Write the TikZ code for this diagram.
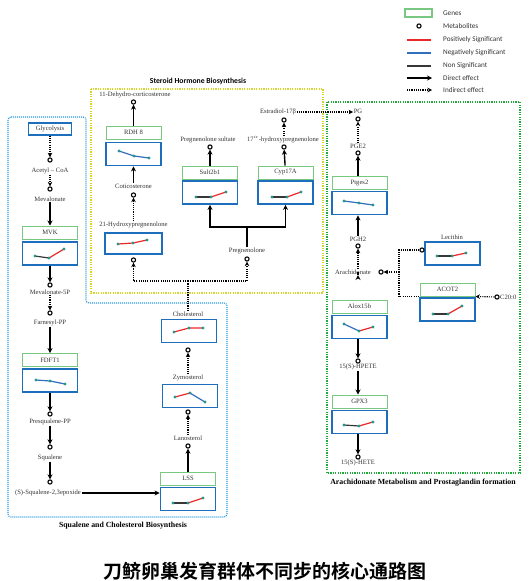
\documentclass[tikz,border=0pt]{standalone}
\usepackage{fontspec}
\setmainfont{Liberation Serif}
\newfontfamily\legendfont{Carlito}
\newfontfamily\cjk[BoldFont={Noto Sans CJK SC Bold}]{Noto Sans CJK SC}
\usetikzlibrary{arrows.meta}

\definecolor{genegreen}{RGB}{120,200,130}
\definecolor{plotblue}{RGB}{30,110,190}
\definecolor{dotc}{RGB}{40,150,140}
\definecolor{posred}{RGB}{235,40,40}
\definecolor{negblue}{RGB}{50,110,190}
\definecolor{nsig}{RGB}{55,55,55}
\definecolor{yellowbox}{RGB}{215,215,40}
\definecolor{greenbox}{RGB}{30,170,60}
\definecolor{bluebox}{RGB}{40,150,220}

\begin{document}
\begin{tikzpicture}[x=1pt,y=-1pt,
    lbl/.style={font=\fontsize{6.6}{7.5}\selectfont,text=black!80,inner sep=0.5pt},
    met/.style={circle,draw,line width=1.1pt,inner sep=0pt,minimum size=4.2pt},
    gene/.style={draw=genegreen,line width=1pt,minimum width=55pt,minimum height=13pt,inner sep=0pt,font=\fontsize{6.6}{7.5}\selectfont,text=black!80},
    plotbox/.style={draw=plotblue,line width=1.8pt,minimum width=55pt,minimum height=23pt,inner sep=0pt},
    direct/.style={line width=1.4pt,-{Stealth[length=5pt,width=5pt]}},
    indirect/.style={line width=1.1pt,dash pattern=on 1.1pt off 1.1pt,-{Stealth[length=4.5pt,width=4.5pt]}},
    link/.style={line width=1.1pt,dash pattern=on 1.1pt off 1.1pt},
    posline/.style={draw=posred,line width=1.2pt},
    negline/.style={draw=negblue,line width=1.2pt},
    nonline/.style={draw=nsig,line width=1.2pt},
    legtext/.style={anchor=west,font=\legendfont\fontsize{7.2}{8}\selectfont,text=black!80,inner sep=0pt},
    frametitle/.style={font=\bfseries\fontsize{7.8}{9}\selectfont}]
\useasboundingbox (0,0) rectangle (531,581);

% pathway frames
\draw[yellowbox,line width=1.2pt,dash pattern=on 1.2pt off 1.2pt] (91,89) rectangle (323,293);
\draw[greenbox,line width=1.3pt,dash pattern=on 1.2pt off 1.2pt] (327,102) rectangle (520,473);
\draw[bluebox,line width=1.1pt,dash pattern=on 1pt off 1pt,rounded corners=3pt]
    (8,117) -- (86,117) -- (86,303) -- (227,303) -- (227,517) -- (8,517) -- cycle;
\node[font=\legendfont\bfseries\fontsize{7.7}{9}\selectfont] (steroid) at (198,81) {Steroid Hormone Biosynthesis};
\node[frametitle] (squal) at (123,526) {Squalene and Cholesterol Biosynthesis};
\node[frametitle] (arachi) at (423,483) {Arachidonate Metabolism and Prostaglandin formation};

% legend
\draw[genegreen,line width=1.2pt] (405,9) rectangle (432,17);
\node[met] (legmet) at (419,26) {};
\draw[posline,line width=1.5pt] (407,40) -- (431,40);
\draw[negline,line width=1.5pt] (407,53) -- (431,53);
\draw[nonline,line width=1.5pt] (407,66) -- (431,66);
\draw[direct] (407,78) -- (432,78);
\draw[indirect] (407,90) -- (432,90);
\node[legtext] (lg1) at (443,13) {Genes};
\node[legtext] (lg2) at (443,26) {Metabolites};
\node[legtext] (lg3) at (443,40) {Positively Significant};
\node[legtext] (lg4) at (443,53) {Negatively Significant};
\node[legtext] (lg5) at (443,66) {Non Significant};
\node[legtext] (lg6) at (443,78) {Direct effect};
\node[legtext] (lg7) at (443,90) {Indirect effect};

% squalene and cholesterol
\node[plotbox,minimum width=43pt,minimum height=12pt,line width=1.5pt,font=\fontsize{6.6}{7.5}\selectfont,text=black!80] (glyc) at (50,129) {Glycolysis};
\node[met] (acet-c) at (50,160) {};
\node[lbl] (acet) at (50,171) {Acetyl -- CoA};
\node[met] (meva-c) at (50,189) {};
\node[lbl] (meva) at (50,199) {Mevalonate};
\node[gene] (mvk) at (50,232.5) {MVK};
\node[plotbox] (mvk-p) at (50,253.5) {};
\node[met] (m5p-c) at (50,285) {};
\node[lbl] (m5p) at (50,292) {Mevalonate-5P};
\node[met] (farn-c) at (50,313) {};
\node[lbl] (farn) at (50,323) {Farnesyl-PP};
\node[gene] (fdft) at (50,360) {FDFT1};
\node[plotbox] (fdft-p) at (50,380.5) {};
\node[met] (presq-c) at (50,414) {};
\node[lbl] (presq) at (50,422) {Presqualene-PP};
\node[met] (squa-c) at (50,447) {};
\node[lbl] (squa) at (50,458) {Squalene};
\node[met] (epox-c) at (50,482) {};
\node[lbl] (epox) at (48,493) {(S)-Squalene-2,3epoxide};
\node[gene] (lss) at (188,478.5) {LSS};
\node[plotbox] (lss-p) at (188,499) {};
\node[lbl] (lano) at (188,438) {Lanosterol};
\node[met] (lano-c) at (188,446) {};
\node[lbl] (zym) at (188,378) {Zymosterol};
\node[plotbox] (zym-p) at (190,396) {};
\node[met] (zym-c) at (188,412) {};
\node[lbl] (chol) at (188,314) {Cholesterol};
\node[plotbox] (chol-p) at (189,331) {};
\node[met] (chol-c) at (188,350) {};

% steroid hormones
\node[lbl] (dhc) at (135,95) {11-Dehydro-corticosterone};
\node[met] (dhc-c) at (133.5,102) {};
\node[gene] (rdh) at (133.5,132.5) {RDH 8};
\node[plotbox] (rdh-p) at (133.5,154) {};
\node[lbl] (cort) at (133.5,186) {Coticosterone};
\node[met] (cort-c) at (133.5,195) {};
\node[lbl] (hyd) at (133.5,225) {21-Hydroxypregnenolone};
\node[plotbox,minimum width=57pt,minimum height=21pt] (hyd-p) at (133.5,243.5) {};
\node[met] (hyd-c) at (133.5,260) {};
\node[lbl] (preg) at (247,251) {Pregnenolone};
\node[met] (preg-c) at (247,259) {};
\node[lbl] (psul) at (208,140) {Pregnenolone sultate};
\node[met] (psul-c) at (210,147) {};
\node[gene] (sult) at (210,172.5) {Sult2b1};
\node[plotbox] (sult-p) at (210,192.5) {};
\node[lbl] (h17) at (283,140) {17$^{\alpha}$-hydroxypregnenolone};
\node[met] (h17-c) at (284,147) {};
\node[gene] (cyp) at (285.5,172.5) {Cyp17A};
\node[plotbox] (cyp-p) at (285.5,192.5) {};
\node[lbl] (estr) at (278,112) {Estradiol-17β};
\node[met] (estr-c) at (284,120) {};

% arachidonate
\node[lbl] (pg) at (358,111) {PG};
\node[met] (pg-c) at (358,119) {};
\node[lbl] (pge2) at (358,146) {PGE2};
\node[met] (pge2-c) at (358,153) {};
\node[gene] (ptg) at (359.5,183) {Ptges2};
\node[plotbox] (ptg-p) at (359.5,203) {};
\node[lbl] (pgh2) at (358,239) {PGH2};
\node[met] (pgh2-c) at (358,246) {};
\node[lbl] (arach) at (353,272) {Arachidonate};
\node[met] (arach-c) at (381,272) {};
\coordinate (br) at (399,272);
\node[lbl] (lec) at (452,237) {Lecithin};
\node[plotbox] (lec-p) at (452.5,253.5) {};
\node[met,fill=white] (lec-c) at (422,250) {};
\node[gene] (acot) at (447.5,289.5) {ACOT2};
\node[plotbox] (acot-p) at (447.5,309.5) {};
\node[met] (c20-c) at (497,297) {};
\node[lbl,anchor=west] (c20) at (499.5,297) {C20:0};
\node[gene] (alox) at (359.5,306.5) {Alox15b};
\node[plotbox] (alox-p) at (359.5,327) {};
\node[met] (hpete-c) at (358,361) {};
\node[lbl] (hpete) at (358,367) {15(S)-HPETE};
\node[gene] (gpx) at (359.5,401.5) {GPX3};
\node[plotbox] (gpx-p) at (359.5,422) {};
\node[met] (hete-c) at (358,457) {};
\node[lbl] (hete) at (358,463) {15(S)-HETE};

% connectors
\draw[indirect] (glyc) -- (acet-c);
\draw[indirect] (acet) -- (meva-c);
\draw[direct] (meva) -- (mvk);
\draw[direct] (mvk-p) -- (m5p-c);
\draw[indirect] (m5p) -- (farn-c);
\draw[direct] (farn) -- (fdft);
\draw[direct] (fdft-p) -- (presq-c);
\draw[direct] (presq) -- (squa-c);
\draw[direct] (squa) -- (epox-c);
\draw[direct] (epox.east) -- (epox.east -| lss-p.west);
\draw[direct] (lss) -- (lano-c);
\draw[indirect] (lano) -- (zym-c);
\draw[indirect] (zym) -- (chol-c);
\coordinate (jn) at (188,281);
\draw[link] (chol) -- (jn);
\draw[indirect] (jn) -| (hyd-c);
\draw[indirect] (jn) -| (preg-c);
\draw[indirect] (hyd) -- (cort-c);
\draw[direct] (cort) -- (rdh-p);
\draw[direct] (rdh) -- (dhc-c);
\coordinate (split) at (247,227);
\draw[line width=1.4pt] (preg) -- (split);
\draw[direct] (split) -| (sult-p);
\draw[direct] (split) -| (cyp-p);
\draw[direct] (sult) -- (psul-c);
\draw[direct] (cyp) -- (h17-c);
\draw[indirect] (h17.north -| h17-c) -- (estr-c);
\draw[indirect] (estr.east) -- (estr.east -| pg.west);
\draw[indirect] (pge2) -- (pg-c);
\draw[direct] (ptg.north -| pge2-c) -- (pge2-c);
\draw[direct] (pgh2.north) -- (pgh2.north |- ptg-p.south);
\draw[indirect] (arach.north -| pgh2-c) -- (pgh2-c);
\draw[link] (lec-c) -| (br) |- (acot.south west);
\draw[indirect] (br) -- (arach-c);
\draw[indirect] (c20-c) -- (acot.south east);
\draw[direct] (arach.south -| pgh2-c) -- (arach.south -| pgh2-c |- alox.north);
\draw[direct] (alox-p.south -| hpete-c) -- (hpete-c);
\draw[direct] (hpete.south) -- (hpete.south |- gpx.north);
\draw[direct] (gpx-p.south -| hete-c) -- (hete-c);

% expression trends
\draw[negline] (119,151) -- (134,156) -- (149,158);
\foreach \p in {(119,151),(134,156),(149,158)} \fill[dotc] \p circle (1.7);
\draw[posline] (118,244) -- (133,243) -- (147,240);
\foreach \p in {(118,244),(133,243),(147,240)} \fill[dotc] \p circle (1.7);
\draw[nonline] (196,197) -- (211,197); \draw[posline] (211,197) -- (226,192);
\foreach \p in {(196,197),(211,197),(226,192)} \fill[dotc] \p circle (1.7);
\draw[nonline] (272,197) -- (287,197); \draw[posline] (287,197) -- (301,192);
\foreach \p in {(272,197),(287,197),(301,192)} \fill[dotc] \p circle (1.7);
\draw[nonline] (35,256) -- (49,258); \draw[posline] (49,258) -- (64,249);
\foreach \p in {(35,256),(49,258),(64,249)} \fill[dotc] \p circle (1.7);
\draw[negline] (36,380) -- (50,381) -- (65,384);
\foreach \p in {(36,380),(50,381),(65,384)} \fill[dotc] \p circle (1.7);
\draw[posline] (174,332) -- (189,328) -- (203,328);
\foreach \p in {(174,332),(189,328),(203,328)} \fill[dotc] \p circle (1.7);
\draw[posline] (175,397) -- (190,393); \draw[negline] (190,393) -- (205,402);
\foreach \p in {(175,397),(190,393),(205,402)} \fill[dotc] \p circle (1.7);
\draw[nonline] (173,503) -- (188,503); \draw[posline] (188,503) -- (203,498);
\foreach \p in {(173,503),(188,503),(203,498)} \fill[dotc] \p circle (1.7);
\draw[negline] (344,201) -- (359,203) -- (373,205);
\foreach \p in {(344,201),(359,203),(373,205)} \fill[dotc] \p circle (1.7);
\draw[nonline] (437,256) -- (452,256); \draw[posline] (452,256) -- (466,253);
\foreach \p in {(437,256),(452,256),(466,253)} \fill[dotc] \p circle (1.7);
\draw[nonline] (433,314) -- (448,314); \draw[posline] (448,314) -- (462,306);
\foreach \p in {(433,314),(448,314),(462,306)} \fill[dotc] \p circle (1.7);
\draw[negline] (344,324) -- (359,331); \draw[posline] (359,331) -- (373,327);
\foreach \p in {(344,324),(359,331),(373,327)} \fill[dotc] \p circle (1.7);
\draw[nonline] (344,425) -- (359,426); \draw[posline] (359,426) -- (373,422);
\foreach \p in {(344,425),(359,426),(373,422)} \fill[dotc] \p circle (1.7);

% caption
\node[font=\cjk\bfseries\fontsize{19}{21}\selectfont] (cap) at (265,571) {刀鲚卵巢发育群体不同步的核心通路图};
\end{tikzpicture}
\end{document}
